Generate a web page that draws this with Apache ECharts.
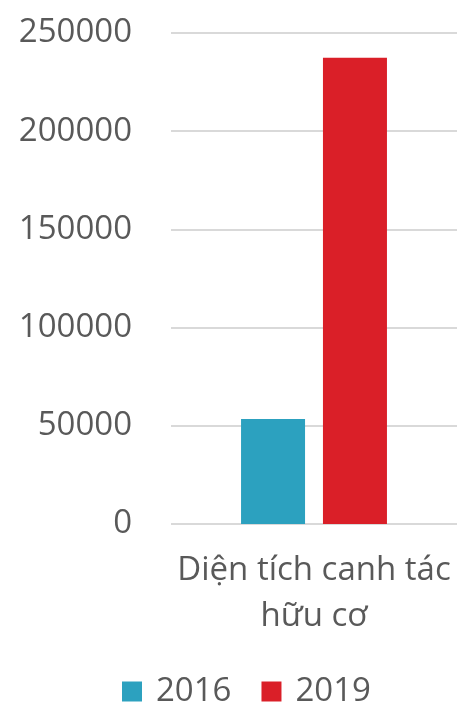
<!DOCTYPE html>
<html><head><meta charset="utf-8">
<script src="https://cdn.jsdelivr.net/npm/echarts@6/dist/echarts.min.js"></script>
<style>html,body{margin:0;padding:0;background:#fff}#c{width:458px;height:705px}</style>
</head><body><div id="c"></div>
<script>
const categories = ['Diện tích canh tác\nhữu cơ'];
const seriesNames = ['2016', '2019'];
const values2016 = [53500];
const values2019 = [237400];
const yTicks = { min: 0, max: 250000, interval: 50000 };

const chart = echarts.init(document.getElementById('c'));
chart.setOption({
  animation: false,
  textStyle: { fontFamily: 'Open Sans' },
  grid: { left: 171, right: 1, top: 33, bottom: 181 },
  legend: {
    top: 675, left: 122, padding: 0,
    itemWidth: 20, itemHeight: 20, itemGap: 30,
    icon: 'rect',
    textStyle: { fontSize: 33, color: '#595959', fontFamily: 'Open Sans', padding: [0, 0, 0, 9] },
    data: seriesNames
  },
  xAxis: {
    type: 'category', data: categories,
    axisLine: { show: false }, axisTick: { show: false },
    axisLabel: { fontSize: 33, color: '#595959', lineHeight: 46, margin: 24, fontFamily: 'Open Sans' }
  },
  yAxis: {
    type: 'value', min: yTicks.min, max: yTicks.max, interval: yTicks.interval,
    axisLine: { show: false }, axisTick: { show: false },
    axisLabel: { fontSize: 33, color: '#595959', margin: 39, fontFamily: 'Open Sans',
      formatter: v => String(v) },
    splitLine: { lineStyle: { color: '#d9d9d9', width: 2 } }
  },
  series: [
    { name: seriesNames[0], type: 'bar', data: values2016, barWidth: 64, barGap: '28%',
      itemStyle: { color: '#2ca1bf' } },
    { name: seriesNames[1], type: 'bar', data: values2019, barWidth: 64,
      itemStyle: { color: '#da1f28' } }
  ]
});
</script></body></html>
